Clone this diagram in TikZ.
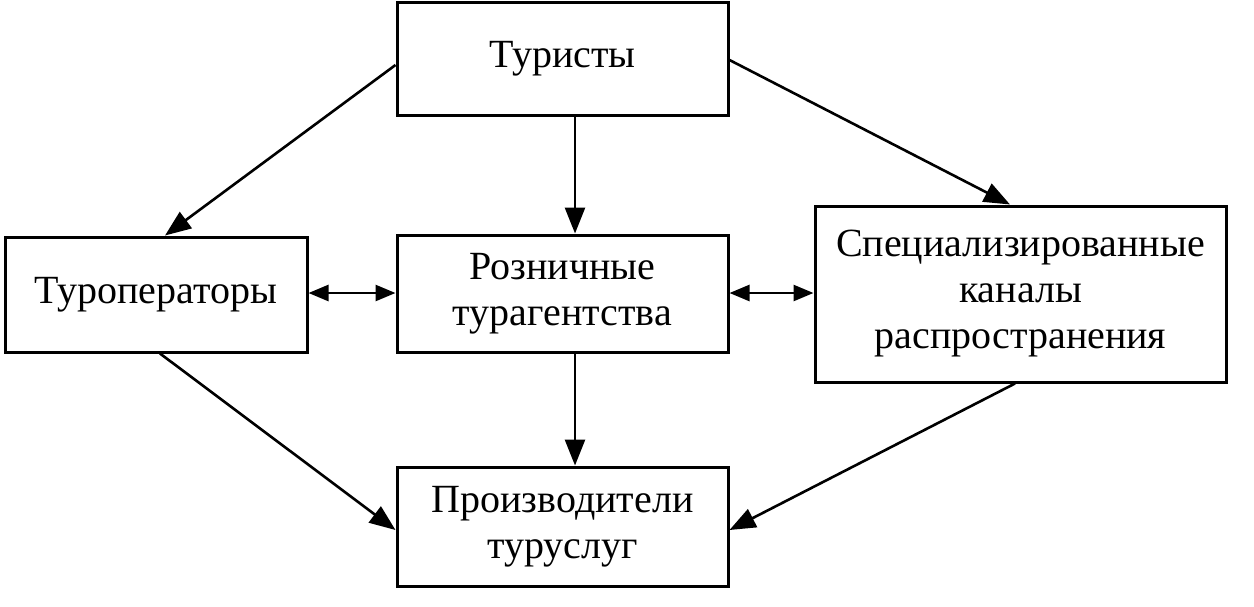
\documentclass[tikz,border=0pt]{standalone}
\usepackage{fontspec}
\setmainfont{Liberation Serif}
\usetikzlibrary{arrows.meta}
\begin{document}
\begin{tikzpicture}[x=0.5pt,y=-0.5pt,
  box/.style={draw,line width=1.5pt,align=center,font=\fontsize{20}{23}\selectfont,inner sep=0pt},
  arr/.style={line width=1.3pt,-{Triangle[length=13pt,width=10pt]}},
  darr/.style={line width=1.3pt,{Triangle[length=10pt,width=8pt]}-{Triangle[length=10pt,width=8pt]}}]
\useasboundingbox (0,0) rectangle (1254,606);
\node[box,minimum width=165.5pt,minimum height=56.5pt] (tur) at (562.5,58.5) {Туристы};
\node[box,minimum width=151pt,minimum height=57.5pt] (op) at (156,294.5) {Туроператоры};
\node[box,minimum width=165.5pt,minimum height=58.5pt] (ag) at (562.5,293.5) {Розничные\\турагентства};
\node[box,minimum width=205.5pt,minimum height=88pt] (sp) at (1020.5,294) {Специализированные\\каналы\\распространения};
\node[box,minimum width=165.5pt,minimum height=59.5pt] (pr) at (562.5,526.5) {Производители\\туруслуг};
\draw[arr] (tur.west |- 0,65) -- (op.north -| 165,0);
\draw[arr] (tur.south -| 575,0) -- (ag.north -| 575,0);
\draw[arr] (tur.east |- 0,60) -- (sp.north -| 1010,0);
\draw[darr] (op.east |- 0,293) -- (ag.west |- 0,293);
\draw[darr] (ag.east |- 0,293) -- (sp.west |- 0,293);
\draw[arr] (ag.south -| 575,0) -- (pr.north -| 575,0);
\draw[arr] (op.south -| 160,0) -- (pr.west |- 0,530);
\draw[arr] (sp.south -| 1015,0) -- (pr.east |- 0,530);
\end{tikzpicture}
\end{document}
